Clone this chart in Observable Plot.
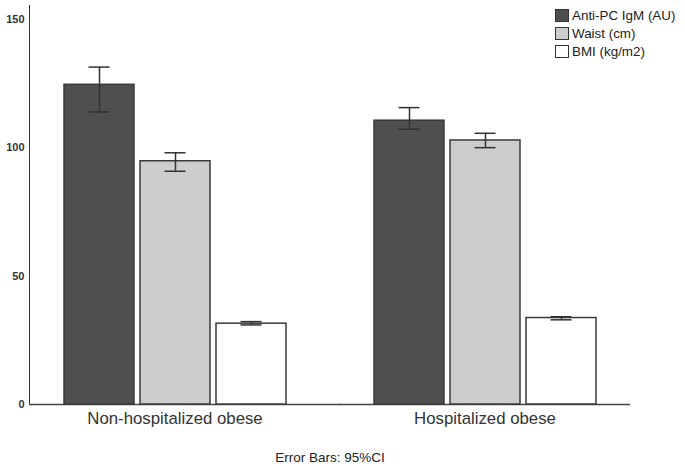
<!DOCTYPE html>
<html>
<head>
<meta charset="utf-8">
<script src="https://cdn.jsdelivr.net/npm/d3@7"></script>
<script src="https://cdn.jsdelivr.net/npm/@observablehq/plot@0.6"></script>
<style>
  html, body { margin: 0; padding: 0; background: #fff; }
  body { width: 685px; height: 468px; position: relative; font-family: "Liberation Sans", Arial, sans-serif; }
  #legend { position: absolute; left: 555px; top: 6px; font-size: 13.4px; color: #222; }
  #legend .row { display: flex; align-items: center; height: 18px; }
  #legend .sw { width: 14px; height: 13px; border: 1px solid #333; box-sizing: border-box; margin-right: 3px; }
  #caption { position: absolute; left: 29px; width: 602px; top: 449px; text-align: center; font-size: 13.5px; color: #222; line-height: 18px; }
</style>
</head>
<body>
<div id="chart"></div>
<div id="legend"></div>
<div id="caption">Error Bars: 95%CI</div>
<script>
const groups = ["Non-hospitalized obese", "Hospitalized obese"];
const series = ["Anti-PC IgM (AU)", "Waist (cm)", "BMI (kg/m2)"];
const colors = ["#4f4f4f", "#cdcdcd", "#ffffff"];
const meanNonHosp = [124.6, 94.8, 31.5];
const lowNonHosp = [114.0, 90.9, 31.0];
const highNonHosp = [131.5, 98.1, 32.3];
const meanHosp = [110.6, 102.9, 33.7];
const lowHosp = [107.3, 100.1, 33.0];
const highHosp = [115.7, 105.7, 34.2];
const yTicks = [0, 50, 100, 150];

const rows = [];
series.forEach((s, i) => {
  rows.push({group: groups[0], series: s, mean: meanNonHosp[i], lo: lowNonHosp[i], hi: highNonHosp[i]});
});
series.forEach((s, i) => {
  rows.push({group: groups[1], series: s, mean: meanHosp[i], lo: lowHosp[i], hi: highHosp[i]});
});

const chart = Plot.plot({
  width: 685,
  height: 440,
  marginLeft: 29,
  marginRight: 54,
  marginTop: 5,
  marginBottom: 36,
  style: {fontFamily: '"Liberation Sans", Arial, sans-serif', color: "#333", background: "#fff"},
  facet: {data: rows, x: "group"},
  fx: {domain: groups, paddingInner: 0.0612, paddingOuter: 0, axis: "bottom", label: null, tickSize: 0, tickPadding: 8},
  x: {domain: series, axis: null, paddingInner: 0.085, paddingOuter: 0.444},
  y: {domain: [0, 155.5], ticks: yTicks, tickSize: 0, tickPadding: 5, label: null, line: true},
  color: {domain: series, range: colors},
  marks: [
    // baseline: the first facet's segment also bridges the gap between facets
    Plot.ruleY(rows, {filter: d => d.series === series[0] && d.group === groups[0], y: () => 0, stroke: "#444", strokeWidth: 1.5, insetRight: -20}),
    Plot.ruleY(rows, {filter: d => d.series === series[0] && d.group === groups[1], y: () => 0, stroke: "#444", strokeWidth: 1.5}),
    Plot.barY(rows, {x: "series", y: "mean", fill: "series", stroke: "#3a3a3a", strokeWidth: 1.5}),
    Plot.ruleX(rows, {x: "series", y1: "lo", y2: "hi", stroke: "#333", strokeWidth: 1.5}),
    Plot.tickY(rows, {x: "series", y: "lo", stroke: "#333", strokeWidth: 1.5, insetLeft: 24.5, insetRight: 24.5}),
    Plot.tickY(rows, {x: "series", y: "hi", stroke: "#333", strokeWidth: 1.5, insetLeft: 24.5, insetRight: 24.5})
  ]
});
document.getElementById("chart").appendChild(chart);

chart.querySelectorAll("g[aria-label='y-axis'] text, g[aria-label='y-axis tick label'] text").forEach(t => {
  t.style.fontSize = "11px"; t.style.fontWeight = "bold"; t.style.fill = "#333";
});
chart.querySelectorAll("g[aria-label='fx-axis'] text, g[aria-label='fx-axis tick label'] text").forEach(t => {
  t.style.fontSize = "16.8px"; t.style.fill = "#333";
});

const legend = document.getElementById("legend");
series.forEach((s, i) => {
  const row = document.createElement("div");
  row.className = "row";
  const sw = document.createElement("div");
  sw.className = "sw";
  sw.style.background = colors[i];
  const lab = document.createElement("span");
  lab.textContent = s;
  row.appendChild(sw); row.appendChild(lab);
  legend.appendChild(row);
});
</script>
</body>
</html>
